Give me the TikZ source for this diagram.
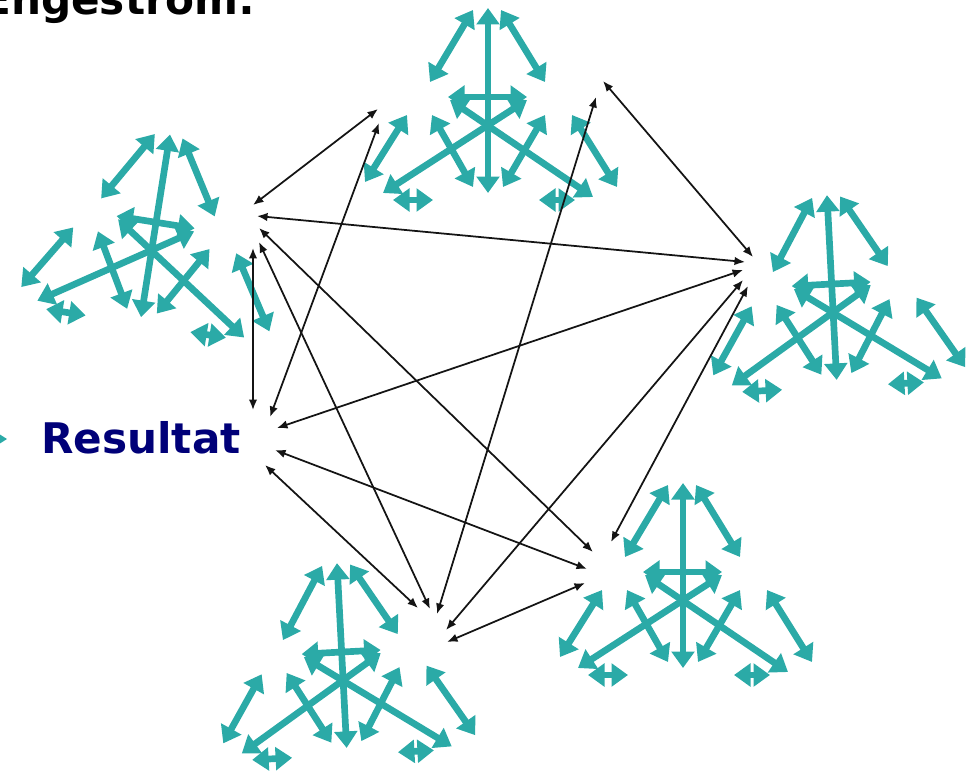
\documentclass[tikz,border=0pt]{standalone}
\usepackage{fontspec}
\setmainfont{DejaVu Sans}
\usepackage{tikz}
\usetikzlibrary{arrows.meta}
\definecolor{actteal}{RGB}{43,170,167}
\definecolor{resnavy}{RGB}{0,0,120}

\begin{document}
\begin{tikzpicture}[
x=0.02cm, y=-0.02cm,
tealarrow/.style={draw=actteal, line width=3.8pt, {Triangle[length=3.3mm,width=4.5mm]}-{Triangle[length=3.3mm,width=4.5mm]}},
link/.style={draw=black!92, line width=1pt, {Latex[length=2.1mm,width=1.7mm]}-{Latex[length=2.1mm,width=1.7mm]}},
bigtext/.style={anchor=base west, inner sep=0pt, font=\bfseries\fontsize{24}{28}\selectfont},
activity/.pic={
  \foreach \a/\b/\c/\d in {0/-115/0/70, -15/-113/-58/-41, 13/-113/57/-41, -40/-26/39/-26,
      -38/-23/105/74, 39/-23/-105/70, -81/-8/-123/59, -56/-8/-15/64,
      57/-8/15/64, 84/-8/129/64, -95/77/-55/77, 51/77/87/77}
    \draw[tealarrow] (\a,\b) -- (\c,\d);
},
]
\useasboundingbox (0,0) rectangle (969,770);

%Texts
\node[bigtext] (title) at (-18,15) {Engestrom:};
\node[bigtext, text=resnavy] (result) at (41,453) {Resultat};
\fill[actteal] (-12,427) -- (7,439) -- (-12,451) -- cycle;

%Activity systems
\pic (acttop) at (488,123) {activity};
\pic[rotate=-9] (actleft) at (152,248) {activity};
\pic[rotate=3] (actright) at (833,310) {activity};
\pic (actbr) at (683,598) {activity};
\pic[rotate=3] (actbl) at (343,678) {activity};

%Ends of the links
\coordinate (lt-top) at (253,205);
\coordinate (lt-rgt) at (257,216);
\coordinate (lt-br) at (259,228);
\coordinate (lt-bl) at (259,242);
\coordinate (lt-res) at (253,248);
\coordinate (top-lt) at (378,109);
\coordinate (top-res) at (379,123);
\coordinate (top-bl) at (596,97);
\coordinate (top-rgt) at (603,81);
\coordinate (rgt-top) at (753,257);
\coordinate (rgt-lt) at (745,262);
\coordinate (rgt-res) at (743,270);
\coordinate (rgt-bl) at (743,280);
\coordinate (rgt-br) at (748,286);
\coordinate (br-rgt) at (611,542);
\coordinate (br-lt) at (593,552);
\coordinate (br-res) at (587,569);
\coordinate (br-bl) at (585,583);
\coordinate (bl-res) at (418,608);
\coordinate (bl-lt) at (430,609);
\coordinate (bl-top) at (437,614);
\coordinate (bl-rgt) at (446,630);
\coordinate (bl-br) at (447,642);
\coordinate (res-lt) at (253,410);
\coordinate (res-top) at (270,417);
\coordinate (res-rgt) at (277,428);
\coordinate (res-br) at (275,450);
\coordinate (res-bl) at (265,465);

%Links
\foreach \a/\b in {lt-top/top-lt, lt-rgt/rgt-lt, lt-br/br-lt, lt-bl/bl-lt, lt-res/res-lt,
    top-res/res-top, top-bl/bl-top, top-rgt/rgt-top,
    rgt-res/res-rgt, rgt-bl/bl-rgt, rgt-br/br-rgt,
    br-res/res-br, br-bl/bl-br, bl-res/res-bl}
  \draw[link] (\a) -- (\b);
\end{tikzpicture}
\end{document}
